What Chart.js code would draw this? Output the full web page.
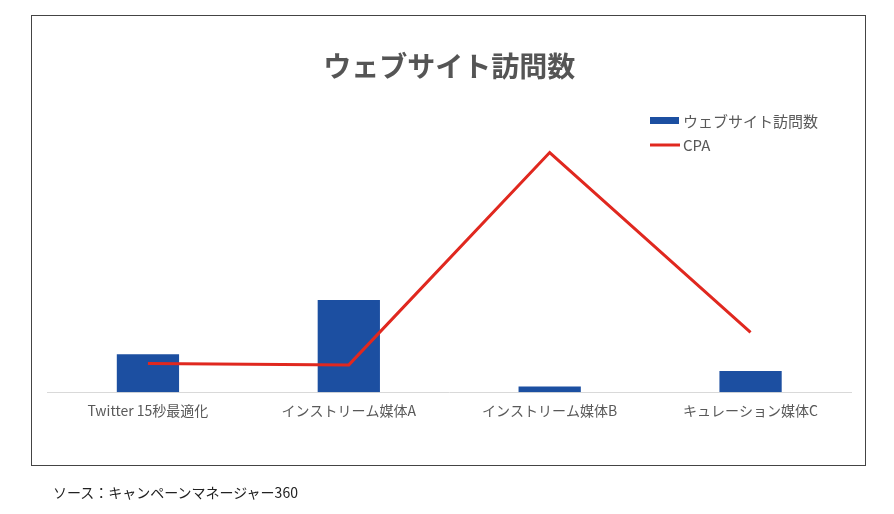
<!DOCTYPE html>
<html>
<head>
<meta charset="utf-8">
<script src="https://cdn.jsdelivr.net/npm/chart.js@4/dist/chart.umd.min.js"></script>
<style>
  html, body { margin: 0; padding: 0; background: #fff; }
  #wrap { position: relative; width: 894px; height: 514px; }
  #frame {
    position: absolute; left: 31px; top: 15px; width: 833px; height: 449px;
    border: 1.5px solid #444; pointer-events: none;
  }
  #source {
    position: absolute; left: 53px; top: 482px;
    font: 14px 'Noto Sans CJK JP', sans-serif; color: #222;
  }
</style>
</head>
<body>
<div id="wrap">
  <canvas id="chart"></canvas>
  <div id="frame"></div>
  <div id="source">ソース：キャンペーンマネージャー360</div>
</div>
<script>
const categories = ['Twitter 15秒最適化', 'インストリーム媒体A', 'インストリーム媒体B', 'キュレーション媒体C'];
const visits = [720, 1750, 110, 400];
const cpa = [120, 114, 1000, 250];

const FONT = "'Noto Sans CJK JP', sans-serif";
const BLUE = '#1c4fa1';
const RED = '#e0281f';

// legend stacked at the top right, like the original
const sideLegend = {
  id: 'sideLegend',
  afterDraw(chart) {
    const c = chart.ctx;
    c.save();
    c.fillStyle = BLUE;
    c.fillRect(650, 117, 29, 7);
    c.strokeStyle = RED;
    c.lineWidth = 3;
    c.beginPath();
    c.moveTo(650, 145);
    c.lineTo(680, 145);
    c.stroke();
    c.fillStyle = '#595959';
    c.font = '15px ' + FONT;
    c.textBaseline = 'middle';
    c.fillText('ウェブサイト訪問数', 683, 121);
    c.fillText('CPA', 683, 145);
    c.restore();
  }
};

const chartCanvas = document.getElementById('chart');
const chart = new Chart(chartCanvas.getContext('2d'), {
  type: 'bar',
  data: {
    labels: categories,
    datasets: [{
      type: 'line',
      label: 'CPA',
      data: cpa,
      yAxisID: 'y1',
      borderColor: RED,
      borderWidth: 3,
      pointRadius: 0,
      tension: 0,
      order: 0
    }, {
      label: 'ウェブサイト訪問数',
      data: visits,
      yAxisID: 'y',
      backgroundColor: BLUE,
      categoryPercentage: 1,
      barPercentage: 0.31,
      order: 1
    }]
  },
  options: {
    responsive: true,
    maintainAspectRatio: false,
    animation: false,
    layout: {
      autoPadding: false,
      padding: { left: 47.5, right: 43, top: 0, bottom: 93 }
    },
    plugins: {
      legend: { display: false },
      tooltip: { enabled: false },
      title: {
        display: true,
        text: 'ウェブサイト訪問数',
        color: '#555555',
        font: { family: FONT, size: 28, weight: 'bold', lineHeight: 1.2 },
        padding: { top: 50, bottom: 45 }
      }
    },
    scales: {
      x: {
        grid: { display: false },
        border: { display: true, color: '#d9d9d9', width: 1 },
        ticks: {
          color: '#595959',
          font: { family: FONT, size: 14 },
          padding: 2,
          maxRotation: 0
        }
      },
      y: { display: false, min: 0, max: 5000 },
      y1: { display: false, min: 0, max: 1100, position: 'right' }
    }
  },
  plugins: [sideLegend]
});
</script>
</body>
</html>
